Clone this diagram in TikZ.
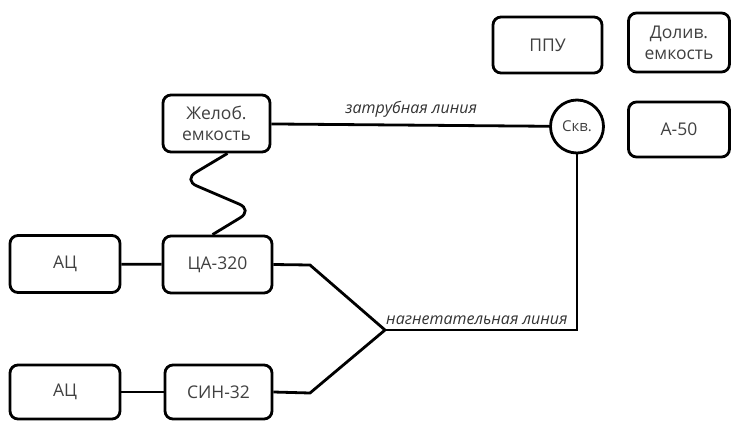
\documentclass[tikz,border=0pt]{standalone}
\usepackage{fontspec}
\setmainfont{Open Sans}
\begin{document}
\begin{tikzpicture}[x=1pt,y=-1pt,
  box/.style={draw,line width=2.8pt,rounded corners=8pt,align=center,inner sep=0pt,font=\fontsize{17.5}{21}\selectfont,text=black!75},
  wire/.style={line width=2.8pt},
  lbl/.style={font=\itshape\fontsize{16}{17}\selectfont,text=black!80,inner sep=0pt}]
\useasboundingbox (0,0) rectangle (731,421);
\node[box,minimum width=110pt,minimum height=57pt] (ac1) at (65,264) {АЦ};
\node[box,minimum width=109pt,minimum height=57pt] (ca) at (217.5,264.5) {ЦА-320};
\node[box,minimum width=110pt,minimum height=54pt] (ac2) at (65,392) {АЦ};
\node[box,minimum width=107pt,minimum height=54pt] (sin) at (218.5,392) {СИН-32};
\node[box,minimum width=107pt,minimum height=57pt] (zhel) at (216.5,123.5) {Желоб.\\емкость};
\node[box,minimum width=109pt,minimum height=56pt] (ppu) at (547.5,45) {ППУ};
\node[box,minimum width=101pt,minimum height=59pt] (doliv) at (679,42.5) {Долив.\\емкость};
\node[box,minimum width=101pt,minimum height=55pt] (a50) at (679,129.5) {А-50};
\node[draw,circle,line width=2.8pt,minimum size=53pt,inner sep=0pt,font=\fontsize{15}{16}\selectfont,text=black!75] (skv) at (577,126.5) {Скв.};
\coordinate (j) at (385,330);
\coordinate (c1) at (310,265);
\coordinate (c2) at (310,393);
\coordinate (wtop) at ([xshift=11pt]zhel.south);
\coordinate (wbot) at ([xshift=-5pt]ca.north);
\draw[wire] (ac1) -- (ca);
\draw[wire] (ac2) -- (sin);
\draw[wire] (zhel) -- (skv) node[lbl,midway,above=6pt,xshift=1pt] {затрубная линия};
\draw[wire,rounded corners=15pt] (wtop) -- (183,180) -- (253,210) -- (wbot);
\draw[wire] (ca.east) -- (c1) -- (j);
\draw[wire] (sin.east) -- (c2) -- (j);
\draw[wire] (skv.south) |- (j);
\node[lbl,anchor=base west] (nl) at (386,324) {нагнетательная линия};
\end{tikzpicture}
\end{document}
